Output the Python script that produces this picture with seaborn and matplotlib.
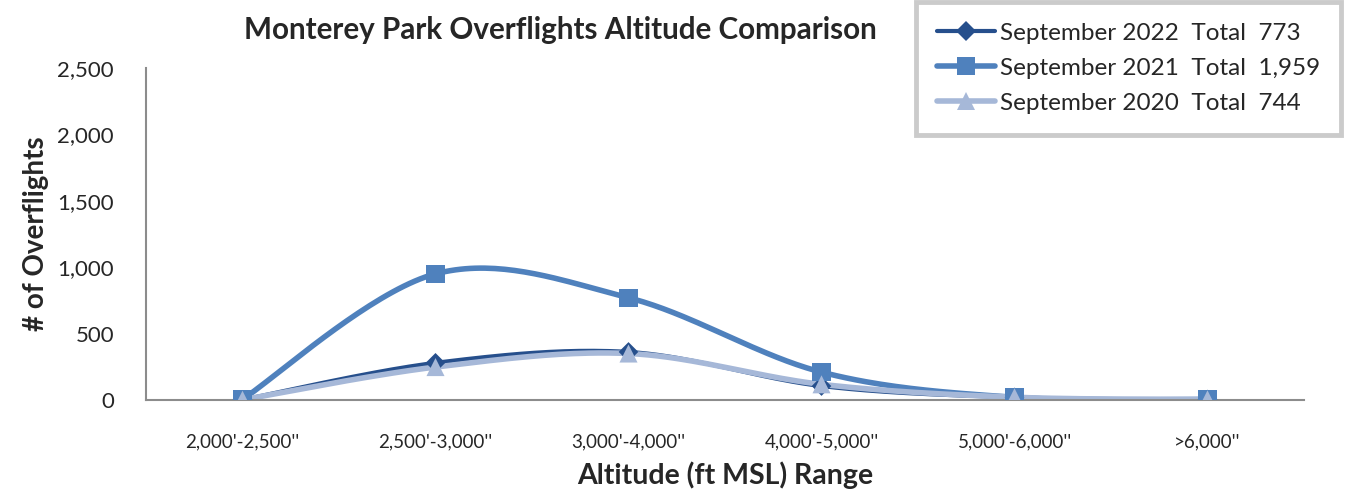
import numpy as np
import pandas as pd
import matplotlib
matplotlib.use("Agg")
import matplotlib.pyplot as plt
from matplotlib.lines import Line2D
import seaborn as sns

categories = ["2,000'-2,500''", "2,500'-3,000''", "3,000'-4,000''",
              "4,000'-5,000''", "5,000'-6,000''", ">6,000''"]
sep2022 = [2, 280, 362, 105, 20, 4]
sep2021 = [5, 950, 770, 210, 20, 4]
sep2020 = [2, 248, 350, 118, 21, 5]
series_names = ["September 2022", "September 2021", "September 2020"]
totals = ["773", "1,959", "744"]
y_ticks = [0, 500, 1000, 1500, 2000, 2500]

colors = ["#264F8C", "#4F81BD", "#A6B8D8"]
markers = ["D", "s", "^"]
msizes = [10, 13, 13]
lws = [3.0, 4.0, 4.0]

sns.set_theme(style="white")
plt.rcParams['font.family'] = ['Lato', 'DejaVu Sans']

fig = plt.figure(figsize=(13.47, 4.95), dpi=100)
ax = fig.add_axes([146/1347, 95/495, 1158/1347, 332/495])


def smooth(xs, ys, n=40):
    pts = np.column_stack([xs, ys]).astype(float)
    ext = np.vstack([pts[0], pts, pts[-1]])
    out = []
    for i in range(len(pts) - 1):
        p0, p1, p2, p3 = ext[i], ext[i + 1], ext[i + 2], ext[i + 3]
        c1 = p1 + (p2 - p0) / 6.0
        c2 = p2 - (p3 - p1) / 6.0
        t = np.linspace(0, 1, n)[:, None]
        seg = ((1 - t) ** 3) * p1 + 3 * ((1 - t) ** 2) * t * c1 + 3 * (1 - t) * t ** 2 * c2 + t ** 3 * p2
        out.append(seg if i == 0 else seg[1:])
    return np.vstack(out)


xpos = np.arange(len(categories))
handles = []
for name, vals, c, m, ms, lw, tot in zip(series_names, [sep2022, sep2021, sep2020],
                                          colors, markers, msizes, lws, totals):
    curve = smooth(xpos, vals)
    df = pd.DataFrame({"x": curve[:, 0], "y": curve[:, 1]})
    sns.lineplot(data=df, x="x", y="y", ax=ax, color=c, lw=lw, sort=False,
                 estimator=None, zorder=2)
    dfp = pd.DataFrame({"x": xpos, "y": vals})
    sns.scatterplot(data=dfp, x="x", y="y", ax=ax, color=c, marker=m, s=ms ** 2,
                    edgecolor="none", zorder=3)
    handles.append(Line2D([], [], color=c, lw=lw, marker=m, markersize=ms,
                          markeredgewidth=0, label=f"{name}  Total  {tot}"))

ax.set_xlim(-0.5, len(categories) - 0.5)
ax.set_ylim(0, 2500)
ax.set_xticks(xpos)
ax.set_xticklabels(categories, fontsize=13.5)
ax.set_xticks(np.arange(-0.5, len(categories)), minor=True)
ax.tick_params(axis="x", which="major", length=0, pad=24)
ax.tick_params(axis="x", which="minor", length=7, width=1.2, color="#8C8C8C", direction="out")
ax.set_yticks(y_ticks)
ax.set_yticklabels([f"{v:,}" for v in y_ticks], fontsize=16)
ax.set_yticks(np.arange(0, 2501, 100), minor=True)
ax.tick_params(axis="y", which="major", length=7, width=1.2, color="#8C8C8C", direction="out", pad=16)
ax.tick_params(axis="y", which="minor", length=5, width=1.2, color="#8C8C8C", direction="out")

for s in ["top", "right"]:
    ax.spines[s].set_visible(False)
for s in ["left", "bottom"]:
    ax.spines[s].set_color("#8C8C8C")
    ax.spines[s].set_linewidth(1.5)

ax.set_xlabel("Altitude (ft MSL) Range", fontsize=20.5, fontweight="bold", labelpad=8)
ax.set_ylabel("# of Overflights", fontsize=20, fontweight="bold", labelpad=6)

fig.text(560/1347, 1 - 30/495, "Monterey Park Overflights Altitude Comparison",
         ha="center", va="center", fontsize=21.3, fontweight="bold")

leg = fig.legend(handles=handles, loc="upper right",
                 bbox_to_anchor=(1341/1347, 1 - 2/495), fontsize=17.5,
                 frameon=True, fancybox=False, handlelength=2.4,
                 handletextpad=0.2, labelspacing=0.58, borderpad=0.85,
                 borderaxespad=0)
leg.get_frame().set_edgecolor("#BFBFBF")
leg.get_frame().set_linewidth(3.5)

fig.savefig("out.png", dpi=100)
